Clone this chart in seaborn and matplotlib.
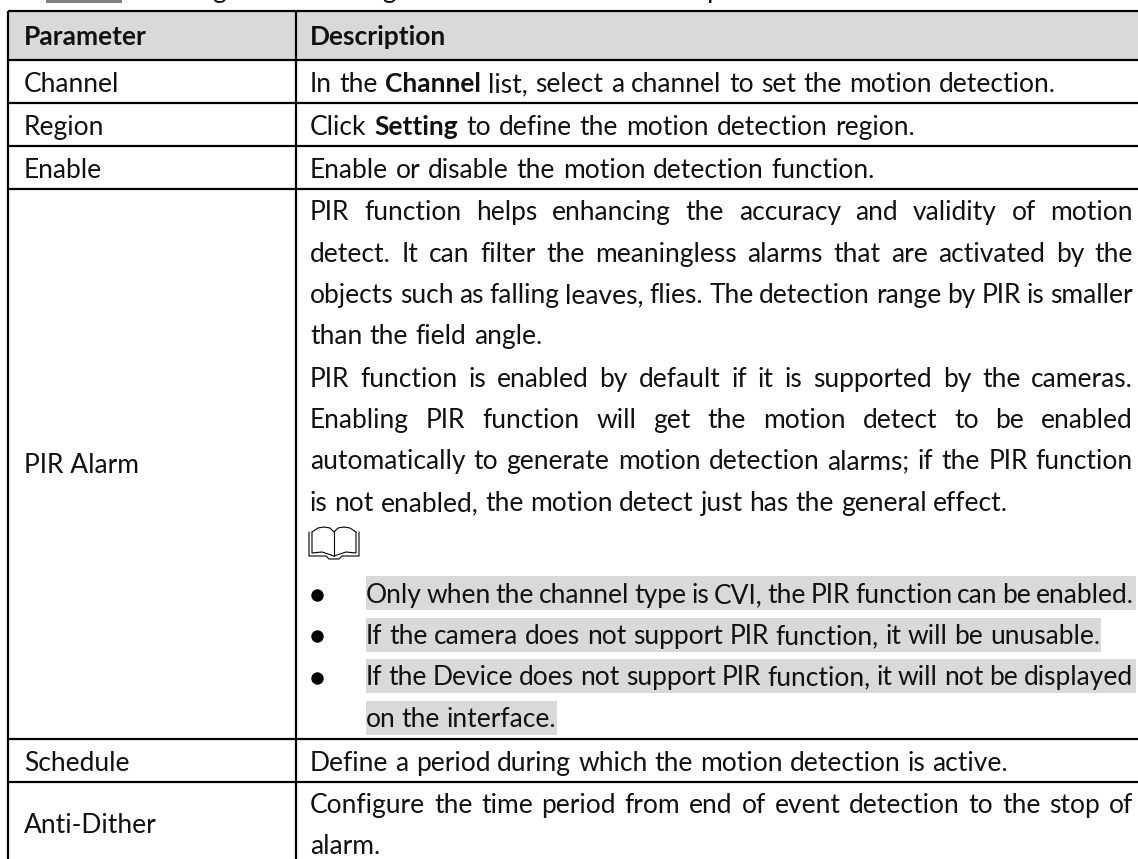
import matplotlib.pyplot as plt
import seaborn as sns

sns.set_theme(style='white')
plt.rcParams['font.family'] = ['Lato', 'DejaVu Sans']

# table text
header = ['Parameter', 'Description']
parameters = ['Channel', 'Region', 'Enable', 'PIR Alarm', 'Schedule', 'Anti-Dither']

# ** marks a bold word
short_rows = [
    'In the **Channel** list, select a channel to set the motion detection.',
    'Click **Setting** to define the motion detection region.',
    'Enable or disable the motion detection function.',
]
pir_lines = [
    'PIR function helps enhancing the accuracy and validity of motion',
    'detect. It can filter the meaningless alarms that are activated by the',
    'objects such as falling leaves, flies. The detection range by PIR is smaller',
    'than the field angle.',
    'PIR function is enabled by default if it is supported by the cameras.',
    'Enabling PIR function will get the motion detect to be enabled',
    'automatically to generate motion detection alarms; if the PIR function',
    'is not enabled, the motion detect just has the general effect.',
]
note_lines = [
    'Only when the channel type is CVI, the PIR function can be enabled.',
    'If the camera does not support PIR function, it will be unusable.',
    'If the Device does not support PIR function, it will not be displayed',
    'on the interface.',
]
schedule_line = 'Define a period during which the motion detection is active.'
dither_lines = [
    'Configure the time period from end of event detection to the stop of',
    'alarm.',
]
top_line = 'Configure the settings for the motion detection parameters.'

# layout, in pixels of the 1138x859 picture
rules_y = [11, 60, 103, 146, 189, 739, 782]
left_x, split_x = 8, 296
name_x, text_x, note_x, right_x = 24, 310, 366, 1133
fs = 19
ink = '#111111'
grey = '#d9d9d9'

fig = plt.figure(figsize=(11.38, 8.59), dpi=100)
ax = fig.add_axes([0, 0, 1, 1])
ax.set_xlim(0, 1138)
ax.set_ylim(859, 0)
ax.axis('off')
sns.despine(ax=ax, left=True, bottom=True)
renderer = fig.canvas.get_renderer()


def put_line(line, x, y, end=None):
    # draw word by word so the gaps can be stretched to reach end
    words = line.split(' ')
    pieces = []
    total = 0
    for w in words:
        bold = w.startswith('**')
        t = ax.text(x, y + 0.3, w.strip('*'), fontsize=fs, color=ink, va='baseline',
                    fontweight='bold' if bold else 'normal')
        width = t.get_window_extent(renderer).width
        pieces.append((t, width))
        total += width
    gap = 5.5
    if end is not None and len(words) > 1:
        gap = (end - x - total) / (len(words) - 1)
    for t, width in pieces:
        t.set_x(x)
        x += width + gap


# header band and highlighted note lines
ax.fill_between([left_x, 1138], rules_y[0], rules_y[1], color=grey, lw=0)
ax.fill_between([46, 122], 0, 3, color='#808080', lw=0)
for (y0, y1, x1) in [(576, 610, 1136), (618, 652, 1101), (659, 693, 1136), (701, 735, 557)]:
    ax.fill_between([note_x, x1], y0, y1, color=grey, lw=0)

# rules
ax.hlines(rules_y, left_x, 1138, color='black', lw=1.6)
ax.vlines([left_x], rules_y[0], 859, color='black', lw=1.6)
ax.vlines([split_x], rules_y[0], 859, color='black', lw=1.6)

# text clipped by the top of the page
ax.text(150, -2, top_line, fontsize=fs, color=ink, va='baseline')

# header
ax.text(name_x, 45, header[0], fontsize=fs, color=ink, fontweight='bold', va='baseline')
ax.text(text_x, 45, header[1], fontsize=fs, color=ink, fontweight='bold', va='baseline')

# first column
for name, y in zip(parameters, [92, 135, 178, 473, 771, 833]):
    ax.text(name_x, y, name, fontsize=fs, color=ink, va='baseline')

# second column
for line, y, end in zip(short_rows, [92, 135, 178], [1056, 915, 875]):
    put_line(line, text_x, y, end)
pir_y = [220, 262, 303, 344, 387, 428, 469, 511]
pir_end = [right_x, right_x, right_x, 542, right_x, right_x, right_x, 1008]
for line, y, end in zip(pir_lines, pir_y, pir_end):
    put_line(line, text_x, y, end)

# book icon of the note
icon_lw = 0.8
ax.plot([309, 309, 326, 329, 339, 342, 359, 359], [532, 556, 556, 559, 559, 556, 556, 532],
        color='black', lw=icon_lw)
ax.plot([312, 312, 322, 334, 346, 356, 356], [532, 553, 552, 556, 552, 553, 532],
        color='black', lw=icon_lw)
ax.plot([312, 318, 324, 330, 334, 338, 344, 350, 356], [532, 528, 527, 528, 532, 528, 527, 528, 532],
        color='black', lw=icon_lw)
ax.plot([334, 334], [532, 556], color='black', lw=icon_lw)

# note bullets
note_y = [603, 644, 685, 727]
note_end = [1134, 1100, 1133, 556]
ax.scatter([317] * 3, [595, 636, 678], s=80, color='black', linewidths=0)
for line, y, end in zip(note_lines, note_y, note_end):
    put_line(line, note_x, y, end)

put_line(schedule_line, text_x, 771, 1008)
for line, y, end in zip(dither_lines, [813, 854], [right_x, 381]):
    put_line(line, text_x, y, end)

plt.savefig('out.png', dpi=100)
